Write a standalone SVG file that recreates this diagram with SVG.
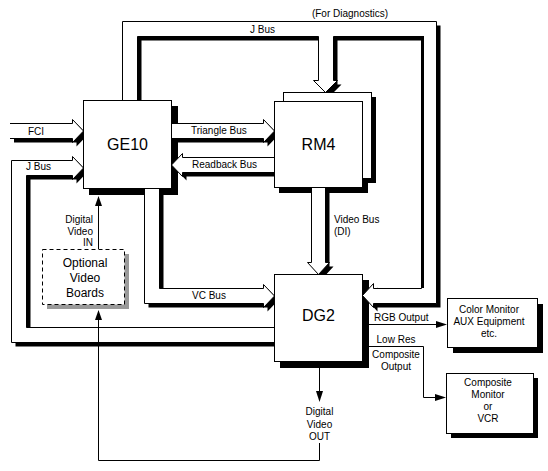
<svg xmlns="http://www.w3.org/2000/svg" xmlns:xlink="http://www.w3.org/1999/xlink" width="548" height="471" viewBox="0 0 548 471">
<style>
  text { font-family: "Liberation Sans", Arial, sans-serif; font-size: 10px; fill: #000; }
  .big { font-size: 16px; }
  .mid { font-size: 12px; }
  .c { text-anchor: middle; }
  .e { text-anchor: end; }
  .sh { fill: #000; stroke: none; }
  .bus { fill: #fff; stroke: #000; stroke-width: 1; }
  .busfill { fill: #fff; stroke: none; }
  .edge { fill: none; stroke: #000; stroke-width: 1; }
  .box { fill: #fff; stroke: #000; stroke-width: 1; }
  .thin { fill: none; stroke: #000; stroke-width: 1; }
  .ah { fill: #000; stroke: none; }
</style>
<defs>
  <polygon id="jtop" points="122.5,105 122.5,21.5 436.5,21.5 436.5,303.5 373.5,303.5 373.5,307.5 362.5,295.5 373.5,283.5 373.5,288.5 421.5,288.5 421.5,36.5 333.5,36.5 333.5,80.5 337.5,80.5 325.5,92.5 313.5,80.5 318.5,80.5 318.5,36.5 137.5,36.5 137.5,105"/>
  <polygon id="fci" points="10,123.5 72.5,123.5 72.5,119.5 83.5,131 72.5,142.5 72.5,138.5 10,138.5"/>
  <polygon id="jleft" points="83.5,168 72.5,179.5 72.5,175.5 26.5,175.5 26.5,327.5 280,327.5 280,342.5 11.5,342.5 11.5,160.5 72.5,160.5 72.5,156.5"/>
  <polygon id="tri" points="165,123.5 263.5,123.5 263.5,119.5 274.5,131 263.5,142.5 263.5,138.5 165,138.5"/>
  <polygon id="rb" points="171.5,165 182.5,153.5 182.5,157.5 280,157.5 280,172.5 182.5,172.5 182.5,176.5"/>
  <polygon id="vc" points="144.5,183 144.5,303.5 263.5,303.5 263.5,307.5 274.5,296 263.5,284.5 263.5,288.5 159.5,288.5 159.5,183"/>
  <polygon id="vid" points="311.5,182 311.5,262.5 307.5,262.5 318.5,274.5 329.5,262.5 325.5,262.5 325.5,182"/>
</defs>
<rect x="0" y="0" width="548" height="471" fill="#fff"/>

<g id="box-shadows">
  <rect class="sh" x="89" y="106" width="89" height="89"/>
  <rect class="sh" x="279" y="106" width="89" height="87"/>
  <rect class="sh" x="288" y="97" width="88" height="86"/>
  <rect class="sh" x="280" y="280" width="89" height="88"/>
</g>

<g id="connectors">
  <!-- bus shadows -->
  <use xlink:href="#jtop" class="sh" transform="translate(4,4)"/>
  <use xlink:href="#fci" class="sh" transform="translate(4,4)"/>
  <use xlink:href="#jleft" class="sh" transform="translate(4,4)"/>
  <use xlink:href="#tri" class="sh" transform="translate(4,4)"/>
  <use xlink:href="#rb" class="sh" transform="translate(4,4)"/>
  <use xlink:href="#vc" class="sh" transform="translate(4,4)"/>
  <use xlink:href="#vid" class="sh" transform="translate(4,4)"/>
  <!-- bus bodies -->
  <use xlink:href="#jtop" class="bus"/>
  <rect class="sh" x="421" y="36" width="3" height="252"/>
  <use xlink:href="#fci" class="busfill"/>
  <path class="edge" d="M10,123.5 H72.5 V119.5 L83.5,131 L72.5,142.5 V138.5 H10"/>
  <use xlink:href="#jleft" class="bus"/>
  <use xlink:href="#tri" class="bus"/>
  <use xlink:href="#rb" class="bus"/>
  <use xlink:href="#vc" class="bus"/>
  <use xlink:href="#vid" class="bus"/>
  <!-- thin signal lines -->
  <path class="thin" d="M98.5,249 V205"/>
  <polygon class="ah" points="98.5,196 95,206 102,206"/>
  <path class="thin" d="M319.5,443 V460.5 H98.5 V319"/>
  <polygon class="ah" points="98.5,310 95,320 102,320"/>
  <path class="thin" d="M319.5,367 V392"/>
  <polygon class="ah" points="319.5,402 316,391 323,391"/>
  <path class="thin" d="M368,324.5 H437"/>
  <polygon class="ah" points="447,324.5 436,321 436,328"/>
  <path class="thin" d="M368,346.5 H423.5 V397.5 H437"/>
  <polygon class="ah" points="446,397.5 435,394 435,401"/>
</g>

<g id="labels">
  <text class="c" x="350" y="17">(For Diagnostics)</text>
  <text x="250" y="33">J Bus</text>
  <text x="28" y="135">FCI</text>
  <text x="26" y="170">J Bus</text>
  <text x="191" y="134">Triangle Bus</text>
  <text x="192" y="168">Readback Bus</text>
  <text class="e" x="93" y="223">Digital</text>
  <text class="e" x="93" y="234.5">Video</text>
  <text class="e" x="93" y="246">IN</text>
  <text x="192" y="299">VC Bus</text>
  <text x="334" y="223">Video Bus</text>
  <text x="334" y="235">(DI)</text>
  <text x="374" y="321">RGB Output</text>
  <text class="c" x="396" y="343">Low Res</text>
  <text class="c" x="396" y="358">Composite</text>
  <text class="c" x="396" y="370">Output</text>
  <text class="c" x="319.5" y="415">Digital</text>
  <text class="c" x="319.5" y="428">Video</text>
  <text class="c" x="319.5" y="440">OUT</text>
</g>

<g id="GE10">
  <rect class="box" x="83.5" y="100.5" width="88" height="88"/>
  <text class="big c" x="127.5" y="149.5">GE10</text>
</g>

<g id="RM4">
  <rect class="box" x="283.5" y="92.5" width="88" height="86"/>
  <rect class="box" x="274.5" y="101.5" width="88" height="86"/>
  <text class="big c" x="318.5" y="149.5">RM4</text>
</g>

<g id="DG2">
  <rect class="box" x="274.5" y="274.5" width="88" height="87"/>
  <text class="big c" x="318.5" y="320.5">DG2</text>
</g>

<g id="OptionalVideoBoards">
  <rect x="47" y="254" width="82" height="55" fill="#9a9a9a"/>
  <rect x="42.5" y="249.5" width="82" height="55" fill="#fff" stroke="#000" stroke-width="1" stroke-dasharray="4,3"/>
  <text class="mid c" x="85" y="267">Optional</text>
  <text class="mid c" x="85" y="282">Video</text>
  <text class="mid c" x="85" y="297">Boards</text>
</g>

<g id="ColorMonitor">
  <rect class="sh" x="453" y="304" width="90" height="49"/>
  <rect class="box" x="447.5" y="298.5" width="90" height="49"/>
  <text class="c" x="489" y="313">Color Monitor</text>
  <text class="c" x="489" y="325">AUX Equipment</text>
  <text class="c" x="489" y="337">etc.</text>
</g>

<g id="CompositeMonitor">
  <rect class="sh" x="451" y="378" width="87" height="60"/>
  <rect class="box" x="446.5" y="373.5" width="87" height="60"/>
  <text class="c" x="488" y="386">Composite</text>
  <text class="c" x="488" y="398">Monitor</text>
  <text class="c" x="488" y="410">or</text>
  <text class="c" x="488" y="422">VCR</text>
</g>
</svg>
